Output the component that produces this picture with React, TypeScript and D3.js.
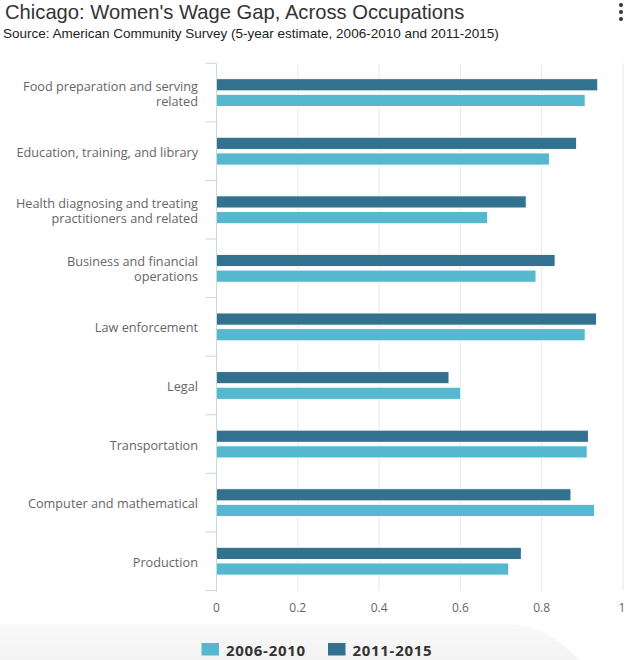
import React from "react";
import * as d3 from "d3";

const categories: string[][] = [
  ["Food preparation and serving", "related"],
  ["Education, training, and library"],
  ["Health diagnosing and treating", "practitioners and related"],
  ["Business and financial", "operations"],
  ["Law enforcement"],
  ["Legal"],
  ["Transportation"],
  ["Computer and mathematical"],
  ["Production"],
];
const seriesNames = ["2011-2015", "2006-2010"];
const values2011_2015 = [0.938, 0.886, 0.762, 0.833, 0.935, 0.572, 0.915, 0.872, 0.75];
const values2006_2010 = [0.907, 0.819, 0.667, 0.786, 0.907, 0.601, 0.912, 0.93, 0.719];
const xTicks = [0, 0.2, 0.4, 0.6, 0.8, 1];
const legendItems = ["2006-2010", "2011-2015"];

const COLORS: Record<string, string> = {
  "2006-2010": "#55b8cf",
  "2011-2015": "#32728f",
};

const W = 630;
const H = 660;
const plotLeft = 216.5;
const plotRight = 623;
const plotTop = 63.3;
const plotBottom = 590.5;

export default function App() {
  const x = d3.scaleLinear().domain([0, 1]).range([plotLeft, plotRight]);
  const idx = categories.map((_, i) => String(i));
  const y = d3.scaleBand().domain(idx).range([plotTop, plotBottom]).paddingInner(0).paddingOuter(0);
  const inner = d3
    .scaleBand()
    .domain(seriesNames)
    .range([0, y.bandwidth()])
    .paddingInner(0.22)
    .paddingOuter(0.98);
  const seriesVals: Record<string, number[]> = {
    "2011-2015": values2011_2015,
    "2006-2010": values2006_2010,
  };
  const labelFont = "'Open Sans', Lato, sans-serif";
  const bounds = d3.range(categories.length + 1).map((i) => plotTop + i * y.step());

  return (
    <svg
      width={W}
      height={H}
      style={{ display: "block", background: "#fff", position: "absolute", left: 0, top: 0 }}
    >
      <defs>
        <linearGradient id="bgGrad" x1="0" y1="0" x2="0" y2="1">
          <stop offset="0" stopColor="#f9f9f9" />
          <stop offset="1" stopColor="#f3f3f3" />
        </linearGradient>
      </defs>
      <path d={`M0,624 L505,624 C540,624 560,642 580,660 L0,660 Z`} fill="url(#bgGrad)" />
      <text x={5} y={19} fontFamily="'Liberation Sans', Arial, sans-serif" fontSize={20.2} fill="#333">
        Chicago: Women's Wage Gap, Across Occupations
      </text>
      <text x={3} y={38} fontFamily="'Liberation Sans', Arial, sans-serif" fontSize={13.5} fill="#222">
        Source: American Community Survey (5-year estimate, 2006-2010 and 2011-2015)
      </text>
      {[5, 12, 19].map((cy) => (
        <circle key={cy} cx={621} cy={cy} r={2} fill="#333" />
      ))}

      {/* gridlines */}
      {xTicks.slice(1).map((t) => (
        <line key={t} x1={x(t)} x2={x(t)} y1={plotTop} y2={plotBottom} stroke="#e6e6e6" strokeWidth={1} />
      ))}

      {/* bars */}
      {categories.map((_, i) =>
        seriesNames.map((s) => {
          const v = seriesVals[s][i];
          return (
            <rect
              key={s + i}
              x={x(0)}
              y={(y(String(i)) as number) + (inner(s) as number)}
              width={x(v) - x(0)}
              height={inner.bandwidth()}
              fill={COLORS[s]}
              stroke="#fff"
              strokeWidth={1}
            />
          );
        })
      )}

      {/* left axis */}
      <line x1={plotLeft} x2={plotLeft} y1={plotTop} y2={plotBottom + 1} stroke="#ccd6eb" strokeWidth={1} />
      {bounds.map((b, i) => (
        <line key={i} x1={plotLeft - 11} x2={plotLeft} y1={b} y2={b} stroke="#ccd6eb" strokeWidth={1} />
      ))}
      {categories.map((lines, i) => {
        const cy = (y(String(i)) as number) + y.bandwidth() / 2;
        const lh = 15;
        const start = cy - ((lines.length - 1) * lh) / 2 + 5.5;
        return (
          <g key={i}>
            {lines.map((ln, j) => (
              <text
                key={j}
                x={198}
                y={start + j * lh}
                textAnchor="end"
                fontFamily={labelFont}
                fontSize={12.7}
                fill="#666"
              >
                {ln}
              </text>
            ))}
          </g>
        );
      })}

      {/* x axis labels */}
      {xTicks.map((t) => (
        <text
          key={t}
          x={Math.min(x(t), plotRight - 1)}
          y={612}
          textAnchor="middle"
          fontFamily={labelFont}
          fontSize={12}
          fill="#666"
        >
          {d3.format("")(t)}
        </text>
      ))}

      {/* legend */}
      {legendItems.map((s, i) => {
        const lx = i === 0 ? 201.5 : 328;
        return (
          <g key={s}>
            <rect x={lx} y={643} width={17.5} height={12.5} fill={COLORS[s]} />
            <text
              x={lx + 24.5}
              y={655.5}
              fontFamily={labelFont}
              fontWeight="bold"
              fontSize={15}
              letterSpacing={0.7}
              fill="#333"
            >
              {s}
            </text>
          </g>
        );
      })}
    </svg>
  );
}
